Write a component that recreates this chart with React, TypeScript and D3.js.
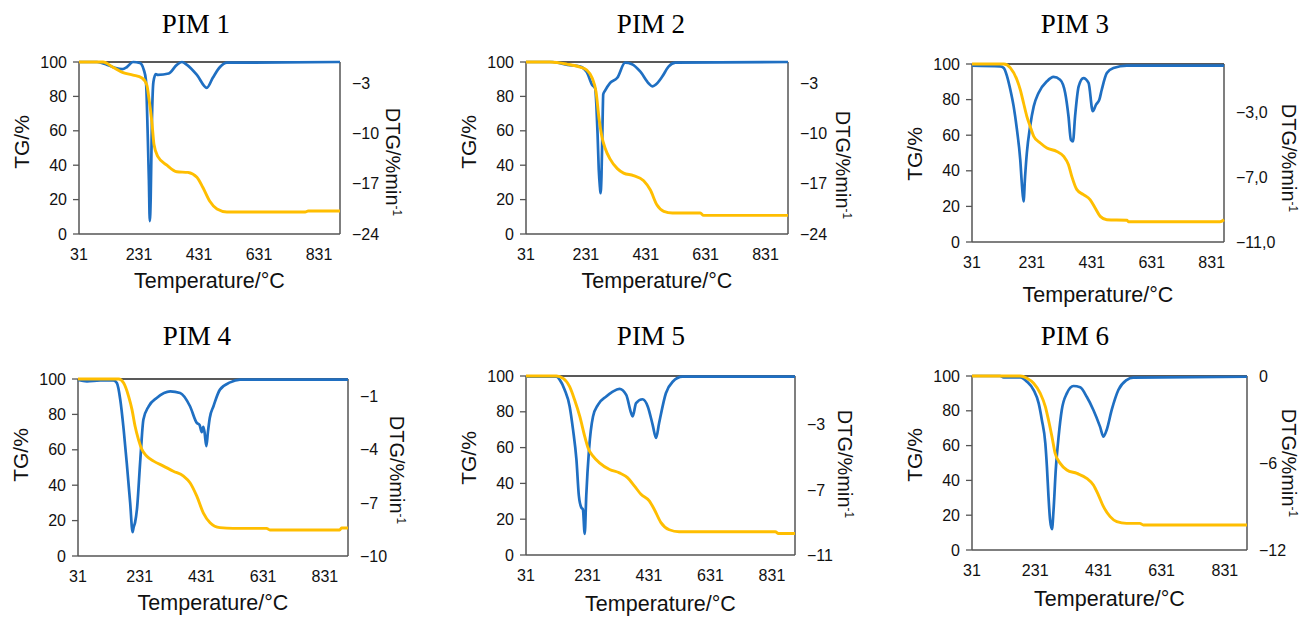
import React from 'react';
import * as d3 from 'd3';

// temperatures (°C) and TG (%) / DTG (%/min) readings for each sample
const pim1TgTemp = [31, 111, 144, 178, 211, 241, 257, 264, 274, 281, 294, 324, 357, 394, 424, 444, 467, 491, 524, 657, 785, 795, 901];
const pim1Tg = [100, 100, 97, 93.8, 92.4, 90.7, 86.6, 79, 65, 52, 45, 40, 36.2, 35.8, 33, 27, 19, 14.5, 12.8, 12.8, 12.8, 13.4, 13.4];
const pim1DtgTemp = [31, 91, 120, 150, 175, 191, 211, 234, 247, 254, 260, 264, 267, 270, 274, 279, 287, 294, 330, 357, 374, 391, 424, 457, 477, 501, 524, 901];
const pim1Dtg = [0, 0, -0.3, -0.8, -1.0, -0.7, 0, -0.15, -1.1, -2.5, -10, -16.5, -22.2, -19, -8.4, -2.8, -1.7, -1.8, -1.6, -0.4, 0, -0.4, -1.8, -3.6, -2.2, -0.7, -0.1, 0];

const pim2TgTemp = [31, 111, 167, 212, 234, 252, 265, 275, 284, 295, 312, 336, 357, 390, 424, 446, 468, 491, 520, 613, 624, 906];
const pim2Tg = [100, 100, 98.8, 97, 95.3, 90.7, 82.6, 67, 57, 50, 43.5, 38, 35.4, 34, 31, 25.7, 17, 13.2, 12.2, 12.2, 10.8, 10.8];
const pim2DtgTemp = [31, 120, 170, 212, 234, 252, 262, 266, 270, 274, 278, 280, 283, 286, 289, 295, 312, 336, 362, 385, 413, 441, 453, 463, 485, 507, 530, 906];
const pim2Dtg = [0, 0, -0.4, -0.65, -1.4, -3.2, -3.7, -6, -10, -15, -17.5, -18.3, -16, -10, -4.5, -4.0, -2.9, -2.2, -0.1, -0.3, -1.35, -3.0, -3.4, -3.2, -2.1, -0.65, -0.1, 0];

const pim3TgTemp = [31, 137, 159, 181, 192, 203, 214, 225, 237, 259, 281, 314, 337, 353, 364, 381, 403, 425, 442, 459, 481, 548, 553, 859, 872];
const pim3Tg = [100, 100, 97.8, 91.2, 85.6, 78.1, 70.6, 65, 59.4, 55.6, 52.8, 50.9, 48.1, 43.4, 36.9, 29.4, 26.6, 23.8, 19.1, 14.4, 12.5, 12.2, 11.4, 11.4, 12.5];
const pim3DtgTemp = [31, 125, 137, 148, 159, 170, 181, 192, 198, 203, 208, 214, 225, 237, 253, 281, 303, 325, 342, 353, 361, 368, 375, 387, 403, 420, 434, 445, 456, 464, 481, 503, 548, 872];
const pim3Dtg = [-0.1, -0.15, -0.25, -0.76, -1.59, -2.62, -4.06, -5.91, -7.56, -8.49, -7.0, -5.5, -3.85, -2.62, -1.79, -1.07, -0.8, -0.97, -1.79, -3.23, -4.68, -4.78, -3.23, -1.38, -0.87, -1.17, -2.92, -2.51, -2.2, -1.59, -0.56, -0.25, -0.1, -0.1];

const pim4TgTemp = [31, 163, 179, 195, 206, 216, 227, 238, 254, 276, 308, 340, 373, 394, 416, 437, 459, 491, 534, 642, 653, 879, 885, 906];
const pim4Tg = [100, 100, 97.7, 90.2, 82.7, 73.3, 65.8, 60.2, 56.4, 53.6, 50.8, 47.9, 45.1, 41.4, 33.8, 24.4, 18.8, 16, 15.6, 15.6, 14.7, 14.7, 15.8, 15.8];
const pim4DtgTemp = [31, 60, 103, 146, 157, 168, 179, 189, 200, 208, 211, 216, 222, 233, 243, 260, 286, 330, 362, 394, 416, 425, 432, 437, 441, 447, 452, 458, 470, 491, 524, 556, 906];
const pim4Dtg = [-0.05, -0.13, -0.08, -0.08, -0.23, -1.17, -2.86, -4.74, -6.99, -8.65, -8.4, -8.1, -7.37, -4.55, -2.29, -1.54, -1.07, -0.7, -0.79, -1.54, -2.48, -2.6, -3.0, -2.7, -3.0, -3.8, -3.0, -2.2, -1.54, -0.6, -0.19, -0.04, -0.04];

const pim5TgTemp = [31, 130, 152, 173, 189, 206, 222, 233, 249, 270, 303, 335, 362, 384, 405, 432, 448, 470, 497, 529, 842, 852, 906];
const pim5Tg = [100, 100, 98.7, 94, 86.7, 77.4, 66.3, 59.8, 55.2, 51.5, 47.8, 45.9, 43.1, 38.5, 33.9, 30.2, 25.6, 18.1, 14.1, 13, 13, 12, 12];
const pim5DtgTemp = [31, 130, 141, 157, 173, 184, 195, 203, 211, 216, 222, 227, 236, 249, 265, 292, 313, 335, 357, 373, 378, 389, 410, 427, 443, 454, 464, 486, 508, 540, 906];
const pim5Dtg = [-0.04, -0.04, -0.24, -0.86, -1.87, -3.3, -5.13, -7.37, -8.09, -8.19, -9.7, -7.37, -4.52, -2.49, -1.77, -1.26, -0.96, -0.79, -1.16, -2.28, -2.49, -1.67, -1.43, -1.87, -3.0, -3.81, -2.89, -1.06, -0.35, -0.04, -0.04];

const pim6TgTemp = [31, 184, 205, 226, 247, 263, 273, 284, 294, 310, 331, 363, 394, 415, 431, 447, 468, 489, 520, 562, 573, 901];
const pim6Tg = [100, 100, 98.7, 95.8, 90, 82.4, 74.7, 65.1, 55.6, 49.8, 46, 44, 41.2, 37.4, 31.6, 24.9, 19.2, 16.3, 15.3, 15.3, 14.4, 14.4];
const pim6DtgTemp = [31, 120, 131, 184, 205, 226, 242, 252, 263, 268, 273, 278, 284, 289, 296, 305, 315, 331, 352, 373, 394, 415, 436, 447, 457, 473, 494, 520, 541, 901];
const pim6Dtg = [0, 0, -0.1, -0.1, -0.39, -0.97, -1.89, -3.03, -4.64, -6.25, -8.32, -9.93, -10.57, -9.24, -6.48, -4.18, -2.34, -1.2, -0.69, -0.78, -1.43, -2.34, -3.49, -4.18, -3.72, -2.34, -0.97, -0.28, -0.11, -0.05];

const titles = ['PIM 1', 'PIM 2', 'PIM 3', 'PIM 4', 'PIM 5', 'PIM 6'];
const xTicks = [31, 231, 431, 631, 831];
const tgTicks = [0, 20, 40, 60, 80, 100];
const xMaxes = [901, 906, 872, 906, 906, 901];
const dtgMins = [-24, -24, -11, -10, -11, -12];
const dtgTicks = [
  [-24, -17, -10, -3],
  [-24, -17, -10, -3],
  [-11, -7, -3],
  [-10, -7, -4, -1],
  [-11, -7, -3],
  [-12, -6, 0],
];

const series = [
  { tgT: pim1TgTemp, tg: pim1Tg, dT: pim1DtgTemp, d: pim1Dtg },
  { tgT: pim2TgTemp, tg: pim2Tg, dT: pim2DtgTemp, d: pim2Dtg },
  { tgT: pim3TgTemp, tg: pim3Tg, dT: pim3DtgTemp, d: pim3Dtg },
  { tgT: pim4TgTemp, tg: pim4Tg, dT: pim4DtgTemp, d: pim4Dtg },
  { tgT: pim5TgTemp, tg: pim5Tg, dT: pim5DtgTemp, d: pim5Dtg },
  { tgT: pim6TgTemp, tg: pim6Tg, dT: pim6DtgTemp, d: pim6Dtg },
];

// layout of each panel: plot box, title and label placements
// dtgDx = distance from the right frame to the baseline of the rotated DTG title
const layout = [
  { l: 79, r: 340, t: 62, b: 234, titleX: 196, titleY: 33, tgY: 142, dtgDx: 46, dtgY: 162, xlabDy: 54, decimals: false },
  { l: 526, r: 788, t: 62, b: 234, titleX: 651, titleY: 33, tgY: 142, dtgDx: 48, dtgY: 165, xlabDy: 54, decimals: false },
  { l: 972, r: 1224, t: 64, b: 242, titleX: 1075, titleY: 33, tgY: 154, dtgDx: 58, dtgY: 158, xlabDy: 60, decimals: true },
  { l: 78, r: 348, t: 379, b: 556, titleX: 197, titleY: 345, tgY: 455, dtgDx: 42, dtgY: 470, xlabDy: 54, decimals: false },
  { l: 526, r: 795, t: 376, b: 555, titleX: 651, titleY: 345, tgY: 458, dtgDx: 43, dtgY: 464, xlabDy: 56, decimals: false },
  { l: 972, r: 1247, t: 376, b: 550, titleX: 1075, titleY: 345, tgY: 455, dtgDx: 35, dtgY: 463, xlabDy: 56, decimals: false },
];

const BLUE = '#1f6fc2';
const GOLD = '#ffbe00';
const SANS = '"Liberation Sans", Arial, Helvetica, sans-serif';

const fmtDtg = (v: number, decimals: boolean) => {
  const s = decimals ? Math.abs(v).toFixed(1).replace('.', ',') : String(Math.abs(v));
  return v < 0 ? '\u2212' + s : s;
};

const Panel = ({ i }: { i: number }) => {
  const L = layout[i];
  const s = series[i];
  const x = d3.scaleLinear().domain([31, xMaxes[i]]).range([L.l, L.r]);
  const yTg = d3.scaleLinear().domain([0, 100]).range([L.b, L.t]);
  const yDtg = d3.scaleLinear().domain([dtgMins[i], 0]).range([L.b, L.t]);

  const tgLine = d3.line<number>()
    .x((_, k) => x(s.tgT[k]))
    .y((v) => yTg(v))
    .curve(d3.curveMonotoneX);
  const dtgLine = d3.line<number>()
    .x((_, k) => x(s.dT[k]))
    .y((v) => yDtg(v))
    .curve(d3.curveMonotoneX);

  const cx = (L.l + L.r) / 2;
  const dtgX = L.r + L.dtgDx;

  return (
    <g>
      <text x={L.titleX} y={L.titleY} textAnchor="middle"
        style={{ fontFamily: '"Liberation Serif", "Times New Roman", serif', fontSize: 27 }} fill="#000">
        {titles[i]}
      </text>

      {/* frame */}
      <line x1={L.l} x2={L.l} y1={L.t} y2={L.b} stroke="#555" strokeWidth={1.5} />
      <line x1={L.l} x2={L.r} y1={L.b} y2={L.b} stroke="#555" strokeWidth={1.5} />
      <line x1={L.r} x2={L.r} y1={L.t} y2={L.b} stroke="#555" strokeWidth={1.5} />
      <line x1={L.l} x2={L.r} y1={L.t} y2={L.t} stroke="#222" strokeWidth={1.5} />

      {/* left axis */}
      {tgTicks.map((v) => (
        <g key={'tg' + v}>
          <line x1={L.l - 6} x2={L.l} y1={yTg(v)} y2={yTg(v)} stroke="#555" strokeWidth={1.3} />
          <text x={L.l - 12} y={yTg(v)} dy="0.35em" textAnchor="end"
            style={{ fontFamily: SANS, fontSize: 16 }} fill="#111">{v}</text>
        </g>
      ))}

      {/* right axis labels */}
      {dtgTicks[i].map((v) => (
        <text key={'d' + v} x={L.r + 12} y={yDtg(v)} dy="0.35em" textAnchor="start"
          style={{ fontFamily: SANS, fontSize: 16 }} fill="#111">{fmtDtg(v, L.decimals)}</text>
      ))}

      {/* bottom axis labels */}
      {xTicks.map((v) => (
        <text key={'x' + v} x={x(v)} y={L.b + 26} textAnchor="middle"
          style={{ fontFamily: SANS, fontSize: 16 }} fill="#111">{v}</text>
      ))}

      <text x={cx} y={L.b + L.xlabDy} textAnchor="middle"
        style={{ fontFamily: SANS, fontSize: 21.5 }} fill="#111">Temperature/°C</text>

      <text transform={`translate(${L.l - 57},${L.tgY}) rotate(-90)`} textAnchor="middle" dy="0.35em"
        style={{ fontFamily: SANS, fontSize: 21 }} fill="#111">TG/%</text>

      <text transform={`translate(${dtgX},${L.dtgY}) rotate(90)`} textAnchor="middle"
        style={{ fontFamily: SANS, fontSize: 20 }} fill="#111">
        DTG/%min<tspan dy="-7" style={{ fontSize: 12 }}>-1</tspan>
      </text>

      <path d={dtgLine(s.d) || ''} fill="none" stroke={BLUE} strokeWidth={2.7} strokeLinejoin="round" />
      <path d={tgLine(s.tg) || ''} fill="none" stroke={GOLD} strokeWidth={2.9} strokeLinejoin="round" />
    </g>
  );
};

const App = () => {
  return (
    <svg width={1303} height={618} style={{ position: 'absolute', left: 0, top: 0, background: '#fff' }}>
      <rect width={1303} height={618} fill="#fff" />
      {titles.map((_, i) => <Panel key={i} i={i} />)}
    </svg>
  );
};

export default App;
